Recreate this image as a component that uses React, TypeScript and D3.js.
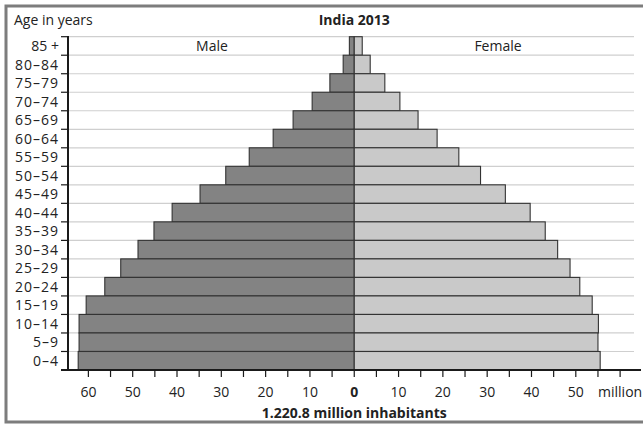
import React from "react";
import * as d3 from "d3";

const ageGroups = ["85 +", "80–84", "75–79", "70–74", "65–69", "60–64", "55–59", "50–54", "45–49", "40–44", "35–39", "30–34", "25–29", "20–24", "15–19", "10–14", "5–9", "0–4"];
const maleValues = [1.1, 2.5, 5.5, 9.5, 13.8, 18.3, 23.7, 29.0, 34.8, 41.1, 45.2, 48.8, 52.7, 56.3, 60.5, 62.1, 62.1, 62.3];
const femaleValues = [1.8, 3.6, 6.9, 10.3, 14.4, 18.7, 23.6, 28.5, 34.1, 39.7, 43.1, 45.9, 48.7, 50.9, 53.7, 55.1, 55.0, 55.5];
const tickValues = d3.range(-60, 61, 5);
const labelValues = [-60, -50, -40, -30, -20, -10, 0, 10, 20, 30, 40, 50, 60];

const W = 643;
const H = 425;
const FONT = "'Open Sans', 'Noto Sans', sans-serif";
const FS = 14;

export default function App() {
  const x = d3.scaleLinear().domain([-64.6, 64.6]).range([68, 640.5]);
  const y = d3.scaleBand<string>().domain(ageGroups).range([36.7, 370]).padding(0);
  const x0 = x(0);
  const bh = y.bandwidth();
  const boundaries = ageGroups.map((g) => y(g) as number);

  const labelFor = (v: number) => (v === 60 ? "million" : String(Math.abs(v)));

  return (
    <svg width={W} height={H} style={{ position: "absolute", left: 0, top: 0, background: "#fff" }} fontFamily={FONT}>
      <rect x={0} y={0} width={W} height={H} fill="#fff" />
      {/* frame */}
      <path d={`M${W + 5},6 H6 V422 H${W + 5}`} fill="none" stroke="#7d7d7d" strokeWidth={3} />

      {/* gridlines */}
      {boundaries.map((b, i) => (
        <line key={"g" + i} x1={68} x2={634} y1={b} y2={b} stroke="#cfcfcf" strokeWidth={1.2} />
      ))}

      {/* bars */}
      {ageGroups.map((g, i) => (
        <g key={"b" + i}>
          <rect x={x(-maleValues[i])} y={y(g)} width={x0 - x(-maleValues[i])} height={bh} fill="#838383" stroke="#333" strokeWidth={1.1} />
          <rect x={x0} y={y(g)} width={x(femaleValues[i]) - x0} height={bh} fill="#c9c9c9" stroke="#333" strokeWidth={1.1} />
        </g>
      ))}

      {/* left axis */}
      <line x1={68} x2={68} y1={36} y2={371} stroke="#1a1a1a" strokeWidth={2} />
      {[...boundaries, 370].map((b, i) => (
        <line key={"lt" + i} x1={61} x2={68} y1={b} y2={b} stroke="#1a1a1a" strokeWidth={1.2} />
      ))}
      {ageGroups.map((g, i) => (
        <text key={"al" + i} x={59} y={(y(g) as number) + bh / 2} dy="0.36em" textAnchor="end" fontSize={FS} fill="#222" letterSpacing={g.includes("–") ? 1 : 0}>
          {g}
        </text>
      ))}

      {/* bottom axis */}
      <line x1={61} x2={641} y1={370} y2={370} stroke="#1a1a1a" strokeWidth={2} />
      {tickValues.map((v) => (
        <line key={"bt" + v} x1={x(v)} x2={x(v)} y1={370} y2={377} stroke="#1a1a1a" strokeWidth={1.2} />
      ))}
      {labelValues.map((v) => (
        <text key={"bl" + v} x={x(v)} y={397} textAnchor="middle" fontSize={FS} fill="#222" fontWeight={v === 0 ? "bold" : "normal"}>
          {labelFor(v)}
        </text>
      ))}

      {/* titles */}
      <text x={14} y={25} fontSize={FS} fill="#222">Age in years</text>
      <text x={x0} y={25} textAnchor="middle" fontSize={FS} fontWeight="bold" fill="#222">India 2013</text>
      <text x={212} y={51} textAnchor="middle" fontSize={FS} fill="#222">Male</text>
      <text x={498} y={51} textAnchor="middle" fontSize={FS} fill="#222">Female</text>
      <text x={x0} y={418} textAnchor="middle" fontSize={FS} fontWeight="bold" fill="#222">1.220.8 million inhabitants</text>
    </svg>
  );
}
